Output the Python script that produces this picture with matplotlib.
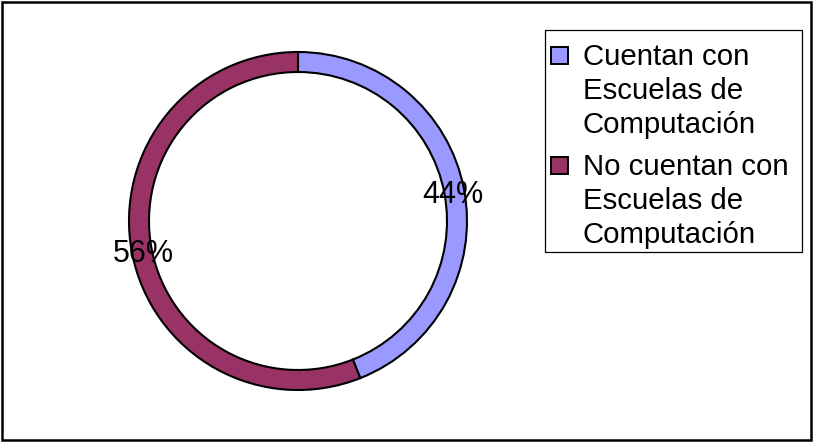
import matplotlib
matplotlib.use("Agg")
import matplotlib.pyplot as plt
from matplotlib.patches import Rectangle

plt.rcParams['font.family'] = ['Liberation Sans', 'DejaVu Sans']

labels = ["Cuentan con\nEscuelas de\nComputación", "No cuentan con\nEscuelas de\nComputación"]
values = [44, 56]
colors = ["#9999FF", "#993366"]

W, H = 813, 442
fig = plt.figure(figsize=(W / 100, H / 100), dpi=100)

# outer frame
fig.patches.append(Rectangle((2 / W, 2 / H), (W - 4) / W, (H - 4) / H, transform=fig.transFigure,
                             fill=False, edgecolor="black", linewidth=1.8))

cx, cy, r = 298, H - 221, 169
half = r * 1.2
ax = fig.add_axes([(cx - half) / W, (cy - half) / H, 2 * half / W, 2 * half / H])
wedges, texts, autotexts = ax.pie(values, colors=colors, startangle=90, counterclock=False,
                                  autopct=lambda p: f"{p:.0f}%", pctdistance=0.93,
                                  wedgeprops=dict(width=20 / r, edgecolor="black", linewidth=1.5),
                                  textprops=dict(fontsize=22, color="black"))
for t in autotexts:
    t.set_va("center_baseline")
ax.set_xlim(-1.2, 1.2)
ax.set_ylim(-1.2, 1.2)
ax.set_aspect('equal')
ax.axis('off')

# legend box
lx0, ly0, lx1, ly1 = 545, 30, 802, 252
fig.patches.append(Rectangle((lx0 / W, 1 - ly1 / H), (lx1 - lx0) / W, (ly1 - ly0) / H,
                             transform=fig.transFigure, fill=False, edgecolor="black", linewidth=0.9))
entry_base = [65, 175]
line_gap = 34
for lab, col, b in zip(labels, colors, entry_base):
    fig.patches.append(Rectangle((551 / W, 1 - (b - 1) / H), 17 / W, 17 / H, transform=fig.transFigure,
                                 facecolor=col, edgecolor="black", linewidth=1.4))
    for i, line in enumerate(lab.split("\n")):
        fig.text(583 / W, 1 - (b + i * line_gap) / H, line, fontsize=21.2, va="baseline", ha="left")

fig.savefig("out.png", dpi=100, facecolor="white")
